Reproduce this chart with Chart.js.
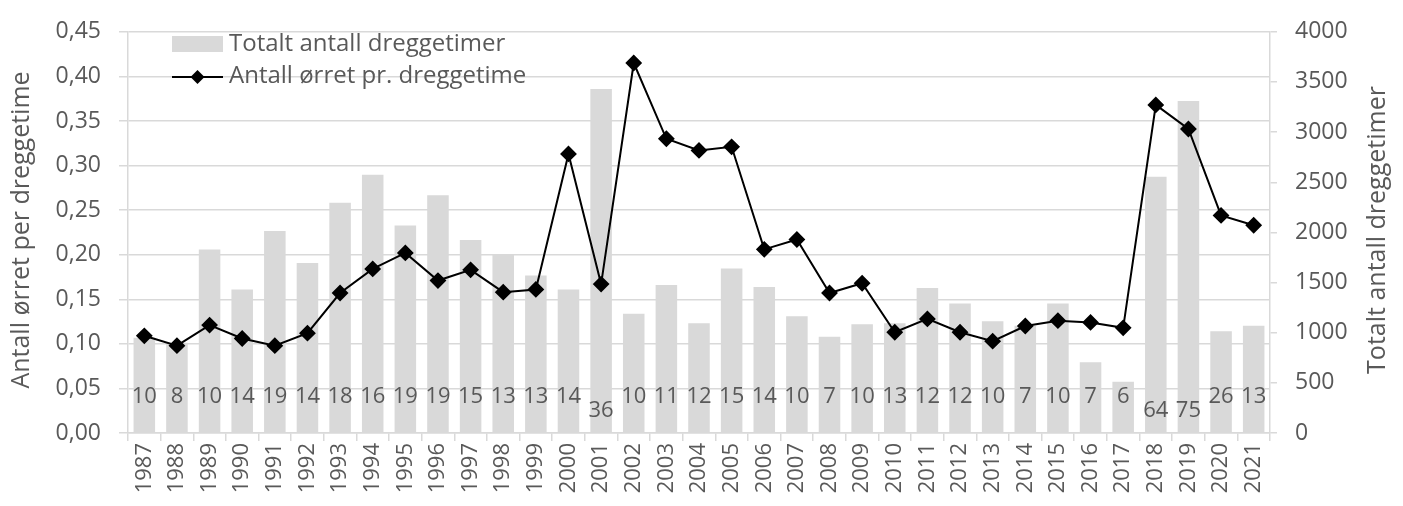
<!DOCTYPE html>
<html>
<head>
<meta charset="utf-8">
<script src="https://cdn.jsdelivr.net/npm/chart.js@4.4.1/dist/chart.umd.min.js"></script>
<style>
  html, body { margin: 0; padding: 0; background: #ffffff; }
  #wrap { width: 1403px; height: 506px; }
</style>
</head>
<body>
<div id="wrap"><canvas id="dregChart" width="1403" height="506"></canvas></div>
<script>
// Chart data
const years = ['1987','1988','1989','1990','1991','1992','1993','1994','1995','1996',
    '1997','1998','1999','2000','2001','2002','2003','2004','2005','2006','2007','2008',
    '2009','2010','2011','2012','2013','2014','2015','2016','2017','2018','2019','2020','2021'];

// Totalt antall dreggetimer (right axis)
const totalHours = [950, 900, 1830, 1430, 2015, 1695, 2295, 2575, 2070, 2370,
    1925, 1780, 1570, 1430, 3430, 1190, 1475, 1095, 1640, 1455, 1165, 960,
    1085, 1095, 1445, 1290, 1115, 1070, 1290, 705, 510, 2555, 3310, 1015, 1070];

// Antall ørret pr. dreggetime (left axis)
const troutPerHour = [0.109, 0.098, 0.121, 0.106, 0.098, 0.112, 0.157, 0.184, 0.202, 0.171,
    0.183, 0.158, 0.161, 0.313, 0.167, 0.415, 0.330, 0.317, 0.321, 0.206, 0.217, 0.157,
    0.168, 0.113, 0.128, 0.113, 0.103, 0.120, 0.126, 0.124, 0.118, 0.368, 0.341, 0.244, 0.233];

// Numbers printed at the foot of each bar
const sampleCounts = [10, 8, 10, 14, 19, 14, 18, 16, 19, 19, 15, 13, 13, 14, 36, 10, 11, 12,
    15, 14, 10, 7, 10, 13, 12, 12, 10, 7, 10, 7, 6, 64, 75, 26, 13];

const leftTicks = [0, 0.05, 0.10, 0.15, 0.20, 0.25, 0.30, 0.35, 0.40, 0.45];
const rightTicks = [0, 500, 1000, 1500, 2000, 2500, 3000, 3500, 4000];

const FONT = '"Open Sans", "Noto Sans", sans-serif';
const TEXT = '#595959';
const GRID = '#d9d9d9';

// Draws legend, axis titles and the count labels
const extrasPlugin = {
    id: 'extras',
    afterDraw(chart) {
        const ctx = chart.ctx;
        const x = chart.scales.x;
        ctx.save();
        ctx.fillStyle = TEXT;
        ctx.font = '22px ' + FONT;
        ctx.textAlign = 'center';
        ctx.textBaseline = 'middle';

        // counts at the bottom of the bars; the large ones sit a bit lower
        sampleCounts.forEach((n, i) => {
            const cx = x.getPixelForValue(i);
            const cy = x.top - (n >= 30 ? 22 : 36);
            ctx.fillText(String(n), cx, cy);
        });

        // legend
        ctx.fillStyle = '#d9d9d9';
        ctx.fillRect(172, 36, 51, 16);
        ctx.strokeStyle = '#000';
        ctx.lineWidth = 2;
        ctx.beginPath();
        ctx.moveTo(172, 77);
        ctx.lineTo(223, 77);
        ctx.stroke();
        ctx.fillStyle = '#000';
        ctx.beginPath();
        ctx.moveTo(197.5, 70);
        ctx.lineTo(204.5, 77);
        ctx.lineTo(197.5, 84);
        ctx.lineTo(190.5, 77);
        ctx.closePath();
        ctx.fill();
        ctx.fillStyle = TEXT;
        ctx.textAlign = 'left';
        ctx.font = '24px ' + FONT;
        ctx.fillText('Totalt antall dreggetimer', 229, 44);
        ctx.fillText('Antall ørret pr. dreggetime', 229, 76);

        // axis titles, both reading bottom to top
        ctx.font = '25px ' + FONT;
        ctx.textAlign = 'center';
        ctx.save();
        ctx.translate(22, 230);
        ctx.rotate(-Math.PI / 2);
        ctx.fillText('Antall ørret per dreggetime', 0, 0);
        ctx.restore();
        ctx.save();
        ctx.translate(1378, 230);
        ctx.rotate(-Math.PI / 2);
        ctx.fillText('Totalt antall dreggetimer', 0, 0);
        ctx.restore();

        ctx.restore();
    }
};

const config = {
    data: {
        labels: years,
        datasets: [
            {
                type: 'line',
                label: 'Antall ørret pr. dreggetime',
                data: troutPerHour,
                yAxisID: 'y',
                borderColor: '#000000',
                backgroundColor: '#000000',
                borderWidth: 2,
                pointStyle: 'rectRot',
                pointRadius: 7,
                pointHoverRadius: 7,
                tension: 0,
                order: 0
            },
            {
                type: 'bar',
                label: 'Totalt antall dreggetimer',
                data: totalHours,
                yAxisID: 'y1',
                backgroundColor: '#d9d9d9',
                barPercentage: 0.66,
                categoryPercentage: 1.0,
                order: 1
            }
        ]
    },
    options: {
        responsive: false,
        animation: false,
        layout: { padding: { top: 23, left: 0, right: 0, bottom: 0 } },
        plugins: {
            legend: { display: false },
            tooltip: { enabled: false }
        },
        scales: {
            x: {
                offset: true,
                grid: {
                    display: true,
                    offset: true,
                    drawOnChartArea: false,
                    drawTicks: true,
                    tickLength: 8,
                    color: GRID,
                    lineWidth: 1.5
                },
                border: { color: GRID, width: 1.5 },
                ticks: {
                    minRotation: 90,
                    maxRotation: 90,
                    autoSkip: false,
                    padding: 2,
                    color: TEXT,
                    font: { family: FONT, size: 22 }
                },
                afterFit: s => { s.height = 73; }
            },
            y: {
                position: 'left',
                min: 0,
                max: 0.45,
                afterBuildTicks: s => { s.ticks = leftTicks.map(v => ({ value: v })); },
                ticks: {
                    padding: 18,
                    color: TEXT,
                    font: { family: FONT, size: 23 },
                    callback: v => v.toFixed(2).replace('.', ',')
                },
                grid: {
                    color: GRID,
                    lineWidth: 1.5,
                    drawTicks: true,
                    tickLength: 9
                },
                border: { color: GRID, width: 1.5 },
                afterFit: s => { s.width = 128; }
            },
            y1: {
                position: 'right',
                min: 0,
                max: 4000,
                afterBuildTicks: s => { s.ticks = rightTicks.map(v => ({ value: v })); },
                ticks: {
                    padding: 18,
                    color: TEXT,
                    font: { family: FONT, size: 23 },
                    callback: v => String(v)
                },
                grid: {
                    drawOnChartArea: false,
                    color: GRID,
                    lineWidth: 1.5,
                    drawTicks: true,
                    tickLength: 7
                },
                border: { color: GRID, width: 1.5 },
                afterFit: s => { s.width = 133; }
            }
        }
    },
    plugins: [extrasPlugin]
};

new Chart(document.getElementById('dregChart').getContext('2d'), config);
</script>
</body>
</html>
